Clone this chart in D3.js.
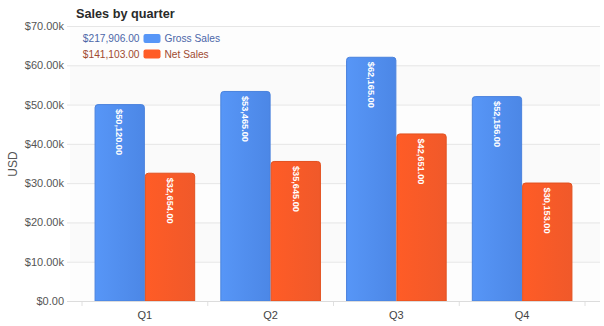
<!DOCTYPE html>
<html>
<head>
<meta charset="utf-8">
<script src="https://cdn.jsdelivr.net/npm/d3@7"></script>
<style>
  html, body { margin: 0; padding: 0; background: #fff; }
  svg { display: block; font-family: "Liberation Sans", Arial, sans-serif; }
</style>
</head>
<body>
<svg id="chart" width="604" height="326"></svg>
<script>
// Quarterly sales data
const quarters = ["Q1", "Q2", "Q3", "Q4"];
const grossSales = [50120, 53465, 62165, 52156];
const netSales = [32654, 35645, 42651, 30153];
const seriesNames = ["Gross Sales", "Net Sales"];
const yTicks = [0, 10000, 20000, 30000, 40000, 50000, 60000, 70000];

const FONT = "'Liberation Sans', Arial, sans-serif";
const svg = d3.select("#chart");
const plot = { left: 82, right: 585, top: 26, bottom: 301, gridLeft: 67, gridRight: 600 };

const series = [
  { name: seriesNames[0], values: grossSales, c0: "#5796f7", c1: "#4c87e6", stroke: "#4a82dd", sumColor: "#4b66a8" },
  { name: seriesNames[1], values: netSales, c0: "#ff5c26", c1: "#f0592a", stroke: "#e2501f", sumColor: "#a04a30" }
];

const y = d3.scaleLinear().domain([0, 70000]).range([plot.bottom, plot.top]);
const x0 = d3.scaleBand().domain(quarters).range([plot.left, plot.right]).paddingInner(0.2).paddingOuter(0.1);
const x1 = d3.scaleBand().domain(seriesNames).range([0, x0.bandwidth()]);

// gradients for bars
const defs = svg.append("defs");
series.forEach((s, i) => {
  const g = defs.append("linearGradient").attr("id", "grad" + i)
    .attr("x1", "0%").attr("x2", "100%").attr("y1", "0%").attr("y2", "0%");
  g.append("stop").attr("offset", "0%").attr("stop-color", s.c0);
  g.append("stop").attr("offset", "100%").attr("stop-color", s.c1);
});

// alternating background bands
const bands = d3.range(yTicks.length - 1);
svg.append("g").selectAll("rect").data(bands).join("rect")
  .attr("x", plot.gridLeft + 3)
  .attr("width", plot.gridRight - plot.gridLeft - 3)
  .attr("y", i => y(yTicks[i + 1]))
  .attr("height", i => y(yTicks[i]) - y(yTicks[i + 1]))
  .attr("fill", i => (i % 2 === 0 ? "#fdfdfd" : "#fafafa"));

// y axis with gridlines
const yAxis = d3.axisLeft(y)
  .tickValues(yTicks)
  .tickSize(-(plot.gridRight - plot.gridLeft))
  .tickPadding(3)
  .tickFormat(d => d === 0 ? "$0.00" : "$" + (d / 1000).toFixed(2) + "k");
const gy = svg.append("g").attr("transform", `translate(${plot.gridLeft},0)`).call(yAxis);
gy.select(".domain").remove();
gy.selectAll(".tick line").attr("stroke", "#e6e6e6");
gy.selectAll(".tick text").attr("fill", "#555").style("font-size", "11px").style("font-family", FONT);

// x axis
const xAxis = d3.axisBottom(x0).tickSize(0).tickPadding(10);
const gx = svg.append("g").attr("transform", `translate(0,${plot.bottom})`).call(xAxis);
gx.select(".domain").remove();
gx.selectAll(".tick text").attr("fill", "#444").style("font-size", "11px").style("font-family", FONT);
// tick marks at band boundaries
const step = x0.step();
const boundaries = quarters.map(q => x0(q) - x0.paddingOuter() * step).concat([plot.right]);
svg.append("g").selectAll("line").data(boundaries).join("line")
  .attr("x1", d => d).attr("x2", d => d)
  .attr("y1", plot.bottom).attr("y2", plot.bottom + 5)
  .attr("stroke", "#e0e0e0");

// bars with rounded tops
function topRounded(xp, yp, w, h, r) {
  return `M${xp},${yp + h}V${yp + r}Q${xp},${yp} ${xp + r},${yp}H${xp + w - r}Q${xp + w},${yp} ${xp + w},${yp + r}V${yp + h}Z`;
}
const groups = svg.append("g").selectAll("g").data(quarters).join("g")
  .attr("transform", q => `translate(${x0(q)},0)`);

series.forEach((s, i) => {
  groups.append("path")
    .attr("d", (q, qi) => {
      const v = s.values[qi];
      return topRounded(x1(s.name) + 0.5, y(v) + 0.5, x1.bandwidth() - 1, y(0) - y(v) - 0.5, 3);
    })
    .attr("fill", `url(#grad${i})`)
    .attr("stroke", s.stroke)
    .attr("stroke-width", 1);

  groups.append("text")
    .attr("transform", (q, qi) => {
      const v = s.values[qi];
      const cx = x1(s.name) + x1.bandwidth() / 2;
      return `translate(${cx},${y(v) + 5}) rotate(90)`;
    })
    .attr("dy", "0.35em")
    .attr("text-anchor", "start")
    .attr("fill", "#fff")
    .style("font-size", "9.2px")
    .style("font-weight", "bold")
    .style("font-family", FONT)
    .text((q, qi) => d3.format("$,.2f")(s.values[qi]));
});

// bottom axis line
svg.append("line")
  .attr("x1", plot.gridLeft).attr("x2", plot.gridRight)
  .attr("y1", plot.bottom + 0.5).attr("y2", plot.bottom + 0.5)
  .attr("stroke", "#dcdcdc");

// y axis title
svg.append("text")
  .attr("transform", `translate(17,${(plot.top + plot.bottom) / 2 + 0.5}) rotate(-90)`)
  .attr("text-anchor", "middle")
  .attr("fill", "#555")
  .style("font-size", "12px")
  .text("USD");

// chart title
svg.append("text")
  .attr("x", 76).attr("y", 18)
  .attr("fill", "#2a2a2a")
  .style("font-size", "12.7px")
  .style("font-weight", "bold")
  .text("Sales by quarter");

// legend with series totals
const legend = svg.append("g");
series.forEach((s, i) => {
  const ly = 38.5 + i * 15.5;
  const total = d3.sum(s.values);
  legend.append("text")
    .attr("x", 139.5).attr("y", ly).attr("dy", "0.35em")
    .attr("text-anchor", "end")
    .attr("fill", s.sumColor)
    .style("font-size", "10.2px")
    .text(d3.format("$,.2f")(total));
  legend.append("rect")
    .attr("x", 143.5).attr("y", ly - 4.5).attr("width", 17).attr("height", 9)
    .attr("rx", 2)
    .attr("fill", s.c0);
  legend.append("text")
    .attr("x", 164.5).attr("y", ly).attr("dy", "0.35em")
    .attr("fill", s.sumColor)
    .style("font-size", "10.2px")
    .text(s.name);
});
</script>
</body>
</html>
